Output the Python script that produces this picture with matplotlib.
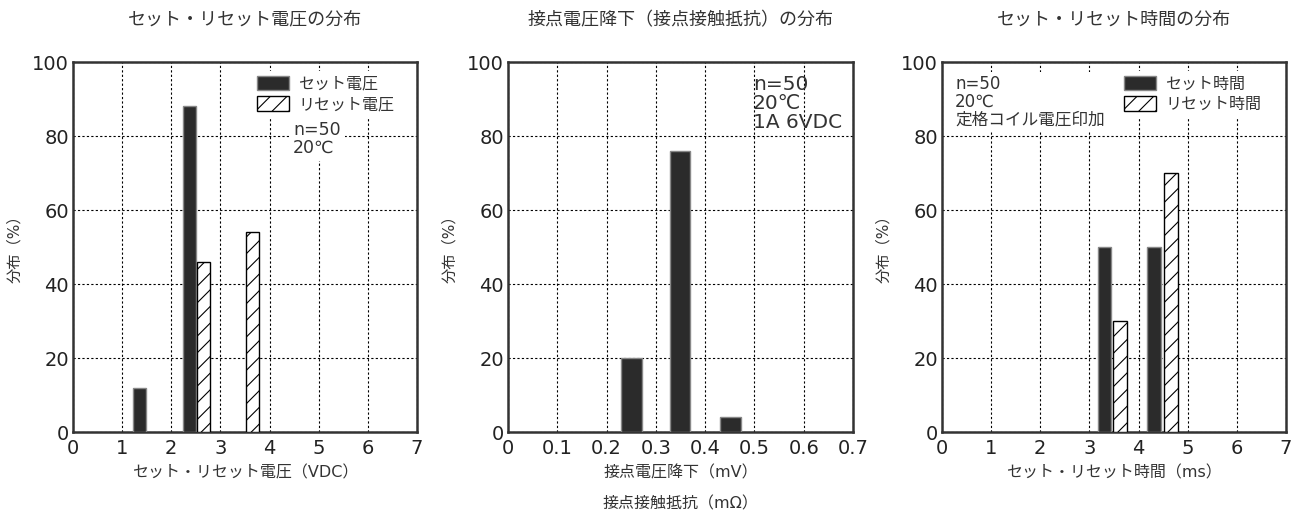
import matplotlib
matplotlib.use("Agg")
import matplotlib.pyplot as plt
from matplotlib.patches import Patch

plt.rcParams['font.family'] = ['DejaVu Sans', 'Noto Sans CJK JP']
plt.rcParams['hatch.linewidth'] = 0.8

# ---- data ----
titles = ["セット・リセット電圧の分布", "接点電圧降下（接点接触抵抗）の分布", "セット・リセット時間の分布"]
ylabel = "分布（%）"
xlabels = ["セット・リセット電圧（VDC）", "接点電圧降下（mV）", "セット・リセット時間（ms）"]
xlabel2_extra = "接点接触抵抗（mΩ）"

yticks = [0, 20, 40, 60, 80, 100]
xticks_int = [0, 1, 2, 3, 4, 5, 6, 7]
xticks_drop = [0, 0.1, 0.2, 0.3, 0.4, 0.5, 0.6, 0.7]
xticklabels_drop = ["0", "0.1", "0.2", "0.3", "0.4", "0.5", "0.6", "0.7"]

volt_set_x = [1.35, 2.365]
volt_set = [12, 88]
volt_reset_x = [2.65, 3.65]
volt_reset = [46, 54]

drop_x = [0.25, 0.349, 0.451]
drop = [20, 76, 4]

time_set_x = [3.305, 4.315]
time_set = [50, 50]
time_reset_x = [3.62, 4.66]
time_reset = [30, 70]

legend_volt = ["セット電圧", "リセット電圧"]
legend_time = ["セット時間", "リセット時間"]
note_volt = "n=50\n20℃"
note_drop = "n=50\n20℃\n1A 6VDC"
note_time = "n=50\n20℃\n定格コイル電圧印加"

# ---- style ----
DARK = "#2b2b2b"
W, H = 1295, 512
fig = plt.figure(figsize=(W / 100, H / 100), dpi=100)

def frac_x(px):
    return px / W

axes_left = [73, 508, 942]
axes_w = [344, 345, 344]
ax_bottom = (H - 432) / H
ax_h = 370 / H
axs = [fig.add_axes([frac_x(l), ax_bottom, frac_x(w), ax_h]) for l, w in zip(axes_left, axes_w)]

def style(ax, xt, xtl=None):
    ax.set_xlim(xt[0], xt[-1])
    ax.set_ylim(0, 100)
    ax.set_xticks(xt)
    if xtl is not None:
        ax.set_xticklabels(xtl)
    ax.set_yticks(yticks)
    ax.tick_params(length=0, labelsize=14, pad=3, colors="#222222")
    ax.tick_params(axis='x', pad=5)
    ax.set_axisbelow(True)
    ax.grid(True, color="black", linestyle=(0, (2, 2)), linewidth=0.8)
    for s in ax.spines.values():
        s.set_linewidth(1.8)
        s.set_color("#333333")
    ax.set_ylabel(ylabel, fontsize=11, color="#333333")
    ax.yaxis.set_label_coords(-0.148, 0.505)

def set_bar(ax, x, h, w):
    ax.bar(x, h, width=w, color=DARK, edgecolor="#888888", linewidth=1.0, zorder=3)

def reset_bar(ax, x, h, w):
    ax.bar(x, h, width=w, color="white", edgecolor="black", hatch="//", linewidth=1.0, zorder=3)

def legend(ax, labels, anchor):
    handles = [Patch(facecolor=DARK, edgecolor="#888888", linewidth=1.0),
               Patch(facecolor="white", edgecolor="black", hatch="//", linewidth=1.0)]
    lg = ax.legend(handles, labels, loc="upper left", bbox_to_anchor=anchor,
                   fontsize=11.5, frameon=True, fancybox=False, framealpha=1,
                   facecolor="white", edgecolor="none", borderpad=0.3,
                   borderaxespad=0, handlelength=2.0, handleheight=1.0,
                   handletextpad=0.6, labelspacing=0.3)
    for t in lg.get_texts():
        t.set_color("#333333")
    lg.set_zorder(5)

# panel 1
ax = axs[0]
style(ax, xticks_int)
set_bar(ax, volt_set_x, volt_set, 0.27)
reset_bar(ax, volt_reset_x, volt_reset, 0.27)
legend(ax, legend_volt, (0.52, 0.975))
ax.text(0.64, 0.84, note_volt, transform=ax.transAxes, fontsize=12.5, va="top",
        ha="left", linespacing=1.0, color="#333333", zorder=6,
        bbox=dict(facecolor="white", edgecolor="none", pad=3))

# panel 2
ax = axs[1]
style(ax, xticks_drop, xticklabels_drop)
set_bar(ax, drop_x, drop, 0.042)
ax.text(0.71, 0.965, note_drop, transform=ax.transAxes, fontsize=14.5, va="top",
        ha="left", linespacing=1.0, color="#333333", zorder=6)

# panel 3
ax = axs[2]
style(ax, xticks_int)
set_bar(ax, time_set_x, time_set, 0.27)
reset_bar(ax, time_reset_x, time_reset, 0.27)
legend(ax, legend_time, (0.515, 0.975))
ax.text(0.038, 0.965, note_time, transform=ax.transAxes, fontsize=12, va="top",
        ha="left", linespacing=1.0, color="#333333", zorder=6,
        bbox=dict(facecolor="white", edgecolor="none", pad=2))

# titles and x labels
for l, w, t, xl in zip(axes_left, axes_w, titles, xlabels):
    cx = frac_x(l + w / 2)
    fig.text(cx, 1 - 20 / H, t, ha="center", va="center", fontsize=13, color="#333333")
    fig.text(cx, 1 - 473 / H, xl, ha="center", va="center", fontsize=11.5, color="#333333")
fig.text(frac_x(axes_left[1] + axes_w[1] / 2), 1 - 504 / H, xlabel2_extra,
         ha="center", va="center", fontsize=11.5, color="#333333")

fig.savefig("out.png", dpi=100, facecolor="white")
